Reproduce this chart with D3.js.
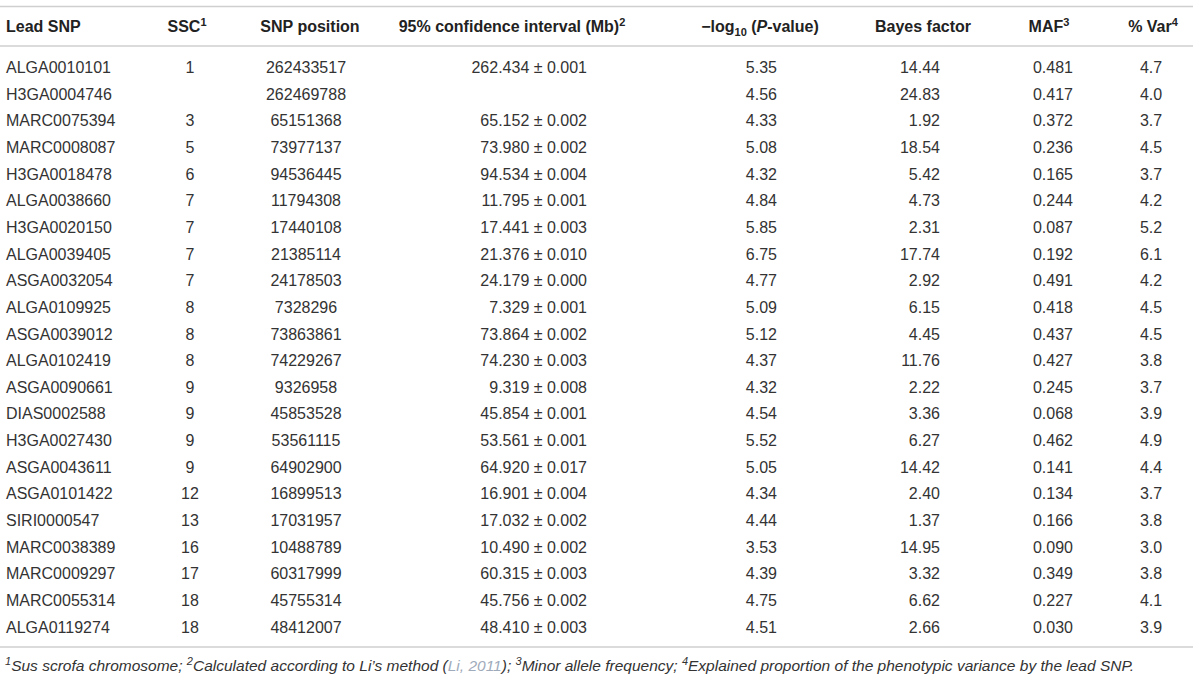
<!DOCTYPE html>
<html>
<head>
<meta charset="utf-8">
<script src="https://cdn.jsdelivr.net/npm/d3@7"></script>
<style>
  body { margin: 0; background: #fff; }
  svg { display: block; font-family: "Liberation Sans", Arial, sans-serif; }
</style>
</head>
<body>
<div id="tbl"></div>
<script>
var svgWidth = 1200;
var svgHeight = 681;

// table data, one array per column
var leadSNP = ["ALGA0010101","H3GA0004746","MARC0075394","MARC0008087","H3GA0018478","ALGA0038660",
  "H3GA0020150","ALGA0039405","ASGA0032054","ALGA0109925","ASGA0039012","ALGA0102419","ASGA0090661",
  "DIAS0002588","H3GA0027430","ASGA0043611","ASGA0101422","SIRI0000547","MARC0038389","MARC0009297",
  "MARC0055314","ALGA0119274"];
var ssc = [1,null,3,5,6,7,7,7,7,8,8,8,9,9,9,9,12,13,16,17,18,18];
var snpPos = [262433517,262469788,65151368,73977137,94536445,11794308,17440108,21385114,24178503,
  7328296,73863861,74229267,9326958,45853528,53561115,64902900,16899513,17031957,10488789,60317999,
  45755314,48412007];
var ciMid = [262.434,null,65.152,73.980,94.534,11.795,17.441,21.376,24.179,7.329,73.864,74.230,9.319,
  45.854,53.561,64.920,16.901,17.032,10.490,60.315,45.756,48.410];
var ciHalf = [0.001,null,0.002,0.002,0.004,0.001,0.003,0.010,0.000,0.001,0.002,0.003,0.008,0.001,0.001,
  0.017,0.004,0.002,0.002,0.003,0.002,0.003];
var logP = [5.35,4.56,4.33,5.08,4.32,4.84,5.85,6.75,4.77,5.09,5.12,4.37,4.32,4.54,5.52,5.05,4.34,4.44,
  3.53,4.39,4.75,4.51];
var bayes = [14.44,24.83,1.92,18.54,5.42,4.73,2.31,17.74,2.92,6.15,4.45,11.76,2.22,3.36,6.27,14.42,2.40,
  1.37,14.95,3.32,6.62,2.66];
var maf = [0.481,0.417,0.372,0.236,0.165,0.244,0.087,0.192,0.491,0.418,0.437,0.427,0.245,0.068,0.462,
  0.141,0.134,0.166,0.090,0.349,0.227,0.030];
var pctVar = [4.7,4.0,3.7,4.5,3.7,4.2,5.2,6.1,4.2,4.5,4.5,3.8,3.7,3.9,4.9,4.4,3.7,3.8,3.0,3.8,4.1,3.9];

var f3 = d3.format(".3f"), f2 = d3.format(".2f"), f1 = d3.format(".1f");

var textCol = "#333";
var lineCol = "#cfcfcf";

var svg = d3.select("#tbl")
  .append("svg")
  .attr("width", svgWidth)
  .attr("height", svgHeight);

// row positions
var rowScale = d3.scaleBand()
  .domain(d3.range(leadSNP.length))
  .range([54, 640.2]);

// columns: x anchor, alignment, header pieces, cell text
var columns = [
  {x: 6, anchor: "start", hx: 6, hanchor: "start",
   head: [{t: "Lead SNP"}],
   cell: i => leadSNP[i]},
  {x: 190, anchor: "middle", hx: 187, hanchor: "middle",
   head: [{t: "SSC"}, {t: "1", sup: true}],
   cell: i => ssc[i] == null ? "" : String(ssc[i])},
  {x: 306, anchor: "middle", hx: 310, hanchor: "middle",
   head: [{t: "SNP position"}],
   cell: i => String(snpPos[i])},
  {x: 587, anchor: "end", hx: 512, hanchor: "middle",
   head: [{t: "95% confidence interval (Mb)"}, {t: "2", sup: true}],
   cell: i => ciMid[i] == null ? "" : f3(ciMid[i]) + " \u00b1 " + f3(ciHalf[i])},
  {x: 777, anchor: "end", hx: 760, hanchor: "middle",
   head: [{t: "\u2212log"}, {t: "10", sub: true}, {t: " ("}, {t: "P", it: true}, {t: "-value)"}],
   cell: i => f2(logP[i])},
  {x: 940, anchor: "end", hx: 923, hanchor: "middle",
   head: [{t: "Bayes factor"}],
   cell: i => f2(bayes[i])},
  {x: 1053, anchor: "middle", hx: 1049, hanchor: "middle",
   head: [{t: "MAF"}, {t: "3", sup: true}],
   cell: i => f3(maf[i])},
  {x: 1151, anchor: "middle", hx: 1153, hanchor: "middle",
   head: [{t: "% Var"}, {t: "4", sup: true}],
   cell: i => f1(pctVar[i])}
];

// rules
[6.5, 46, 647].forEach(function(y) {
  svg.append("line")
    .attr("x1", 0).attr("x2", 1193)
    .attr("y1", y).attr("y2", y)
    .attr("stroke", lineCol)
    .attr("stroke-width", 1.6);
});

// header
var header = svg.append("g")
  .attr("font-weight", "bold")
  .attr("font-size", 16)
  .attr("fill", "#222");

columns.forEach(function(c) {
  var t = header.append("text")
    .attr("x", c.hx)
    .attr("y", 32)
    .attr("text-anchor", c.hanchor);
  var shift = 0;
  c.head.forEach(function(p) {
    var s = t.append("tspan").text(p.t);
    if (p.sup) { s.attr("font-size", 11).attr("dy", -6 - shift); shift = -6; }
    else if (p.sub) { s.attr("font-size", 11).attr("dy", 4 - shift); shift = 4; }
    else if (shift) { s.attr("dy", -shift); shift = 0; }
    if (p.it) s.attr("font-style", "italic");
  });
});

// body
var body = svg.append("g")
  .attr("font-size", 16)
  .attr("fill", textCol);

columns.forEach(function(c) {
  body.selectAll(null)
    .data(d3.range(leadSNP.length))
    .enter()
    .append("text")
    .attr("x", c.x)
    .attr("y", i => rowScale(i) + rowScale.bandwidth() / 2)
    .attr("dy", "0.36em")
    .attr("text-anchor", c.anchor)
    .text(i => c.cell(i));
});

// footnote
var notes = [
  {t: "1", sup: true}, {t: "Sus scrofa chromosome; "},
  {t: "2", sup: true}, {t: "Calculated according to Li\u2019s method ("},
  {t: "Li, 2011", link: true}, {t: "); "},
  {t: "3", sup: true}, {t: "Minor allele frequency; "},
  {t: "4", sup: true}, {t: "Explained proportion of the phenotypic variance by the lead SNP."}
];

var foot = svg.append("text")
  .attr("x", 5)
  .attr("y", 670.5)
  .attr("font-size", 15.5)
  .attr("font-style", "italic")
  .attr("fill", textCol);

var shifted = false;
notes.forEach(function(n) {
  var s = foot.append("tspan").text(n.t);
  if (n.sup) {
    s.attr("font-size", 11).attr("dy", -5.5);
    shifted = true;
  } else if (shifted) {
    s.attr("dy", 5.5);
    shifted = false;
  }
  if (n.link) s.attr("fill", "#9fabbb");
});
</script>
</body>
</html>
